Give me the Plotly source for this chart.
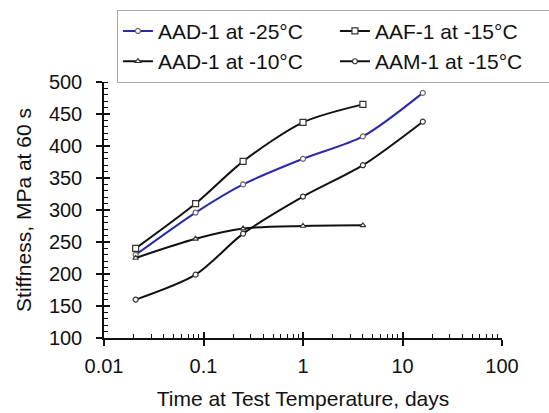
import plotly.graph_objects as go

# Data
days = [0.0208, 0.0833, 0.25, 1, 4, 16]
aad1_m25 = [230, 296, 340, 380, 415, 483]
aaf1_m15 = [240, 310, 376, 437, 465]
aad1_m10 = [225, 255, 271, 275, 276]
aam1_m15 = [160, 199, 263, 321, 370, 438]

series_names = ["AAD-1 at -25°C", "AAF-1 at -15°C", "AAD-1 at -10°C", "AAM-1 at -15°C"]
x_tickvals = [0.01, 0.1, 1, 10, 100]
x_ticktext = ["0.01", "0.1", "1", "10", "100"]
x_minor_vals = [m * 10.0 ** e for e in range(-2, 2) for m in range(2, 10)]
y_tickvals = [100, 150, 200, 250, 300, 350, 400, 450, 500]

FONT = "Arial, 'Liberation Sans', sans-serif"

fig = go.Figure()

def add(xs, ys, name, color, symbol, mcolor, size=6):
    fig.add_trace(go.Scatter(
        x=xs, y=ys, name=name, mode="lines+markers",
        line=dict(color=color, width=2, shape="spline", smoothing=0.8),
        marker=dict(symbol=symbol, size=size, color="white",
                    line=dict(color=mcolor, width=1.2)),
    ))

add(days, aad1_m25, series_names[0], "#2A2AA8", "circle", "#666666", 5)
add(days[:5], aaf1_m15, series_names[1], "#111111", "square", "#333333", 6)
add(days[:5], aad1_m10, series_names[2], "#111111", "triangle-up", "#333333", 5)
add(days, aam1_m15, series_names[3], "#111111", "circle", "#333333", 5)

# invisible trace for overlay axes (to draw crossing major ticks)
fig.add_trace(go.Scatter(x=[1], y=[300], xaxis="x2", yaxis="y2", mode="markers",
                         marker=dict(opacity=0), showlegend=False, hoverinfo="skip"))

axis_font = dict(family=FONT, size=20, color="#111111")

fig.update_layout(
    width=549, height=413,
    margin=dict(l=104, r=47, t=82, b=75, autoexpand=False),
    paper_bgcolor="white", plot_bgcolor="white",
    font=dict(family=FONT, size=20, color="#111111"),
    showlegend=True,
    legend=dict(
        orientation="h", x=1.128, y=1.282, xanchor="right", yanchor="top",
        bordercolor="#A8A8A8", borderwidth=1,
        font=dict(family=FONT, size=21, color="#111111"),
        entrywidth=172, entrywidthmode="pixels",
        bgcolor="white",
    ),
    xaxis=dict(
        type="log", range=[-2, 2], tickvals=x_tickvals, ticktext=x_ticktext,
        showgrid=False, zeroline=False, showline=True, linecolor="#111111", linewidth=1.5,
        ticks="outside", ticklen=6, tickwidth=1.5, tickcolor="#111111",
        minor=dict(tickmode="array", tickvals=x_minor_vals, ticks="inside", ticklen=4,
                   tickwidth=1, tickcolor="#111111", showgrid=False),
        tickfont=axis_font, ticklabelstandoff=3, automargin=False,
        title=dict(text="Time at Test Temperature, days", font=dict(family=FONT, size=21), standoff=16),
    ),
    yaxis=dict(
        range=[100, 500], tickvals=y_tickvals,
        showgrid=False, zeroline=False, showline=True, linecolor="#111111", linewidth=1.5,
        ticks="outside", ticklen=6, tickwidth=1.5, tickcolor="#111111",
        minor=dict(ticks="inside", ticklen=4, tickwidth=1, tickcolor="#111111", dtick=10, showgrid=False),
        tickfont=axis_font, ticklabelstandoff=10, automargin=False,
        title=dict(text="Stiffness, MPa at 60 s", font=dict(family=FONT, size=21), standoff=12),
    ),
    xaxis2=dict(
        type="log", range=[-2, 2], overlaying="x", anchor="y2", side="bottom",
        tickvals=x_tickvals, showticklabels=False, showgrid=False, zeroline=False, showline=False,
        ticks="inside", ticklen=6, tickwidth=1.5, tickcolor="#111111",
    ),
    yaxis2=dict(
        range=[100, 500], overlaying="y", anchor="x2", side="left",
        tickvals=y_tickvals, showticklabels=False, showgrid=False, zeroline=False, showline=False,
        ticks="inside", ticklen=6, tickwidth=1.5, tickcolor="#111111",
    ),
)

fig.write_html("out.html", config={"displayModeBar": False},
               post_script="document.body.style.margin='0';")
